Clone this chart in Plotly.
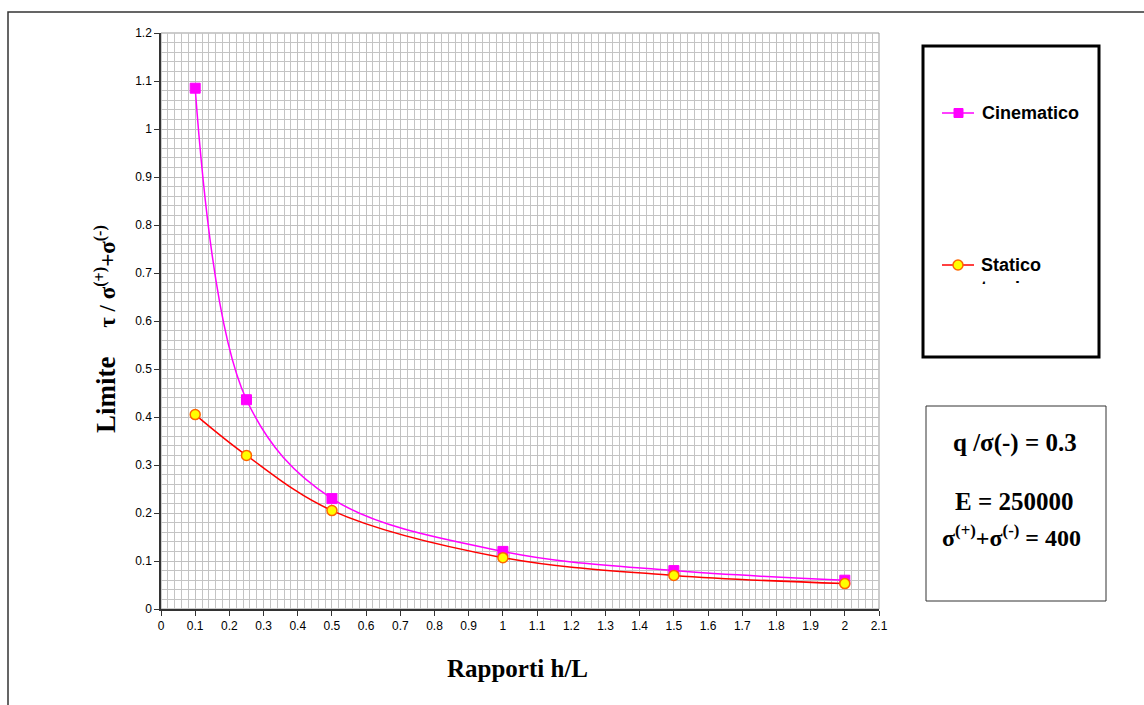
import plotly.graph_objects as go

h_over_L = [0.1, 0.25, 0.5, 1.0, 1.5, 2.0]
cinematico = [1.085, 0.436, 0.230, 0.120, 0.080, 0.060]
statico = [0.405, 0.320, 0.205, 0.107, 0.070, 0.053]
x_ticks = [round(i * 0.1, 1) for i in range(22)]
y_ticks = [round(i * 0.1, 1) for i in range(13)]

W, H = 1144, 705
L, R, T, B = 161, 879, 33, 609

fig = go.Figure()
fig.add_trace(go.Scatter(
    x=h_over_L, y=cinematico, mode="lines+markers", name="Cinematico",
    line=dict(color="#FF00FF", width=1.5, shape="spline", smoothing=1.0),
    marker=dict(symbol="square", size=10, color="#FF00FF", line=dict(color="#FF00FF", width=1)),
    showlegend=False, cliponaxis=False,
))
fig.add_trace(go.Scatter(
    x=h_over_L, y=statico, mode="lines+markers", name="Statico teorico",
    line=dict(color="#FF0000", width=1.5, shape="spline", smoothing=1.0),
    marker=dict(symbol="circle", size=10, color="#FFFF00", line=dict(color="#FF6600", width=1.5)),
    showlegend=False, cliponaxis=False,
))

# pixel -> paper (paper is relative to plot area)
def px(x):
    return (x - L) / (R - L)

def py(y):
    return (B - y) / (B - T)

shapes = []
# outer chart border
shapes.append(dict(type="rect", xref="paper", yref="paper",
                   x0=px(8), x1=px(1160), y0=py(730), y1=py(12),
                   line=dict(color="#333333", width=1.5), fillcolor="rgba(0,0,0,0)", layer="below"))
# legend box
shapes.append(dict(type="rect", xref="paper", yref="paper",
                   x0=px(923), x1=px(1099), y0=py(357), y1=py(46),
                   line=dict(color="#000000", width=3), fillcolor="white"))
# legend symbols
shapes.append(dict(type="line", xref="paper", yref="paper",
                   x0=px(942), x1=px(974), y0=py(113), y1=py(113),
                   line=dict(color="#FF00FF", width=1.5)))
shapes.append(dict(type="rect", xref="paper", yref="paper",
                   x0=px(954), x1=px(963), y0=py(117.5), y1=py(108.5),
                   line=dict(color="#FF00FF", width=1), fillcolor="#FF00FF"))
shapes.append(dict(type="line", xref="paper", yref="paper",
                   x0=px(942), x1=px(974), y0=py(265), y1=py(265),
                   line=dict(color="#FF0000", width=1.5)))
shapes.append(dict(type="circle", xref="paper", yref="paper",
                   x0=px(953), x1=px(963), y0=py(270), y1=py(260),
                   line=dict(color="#FF6600", width=1.5), fillcolor="#FFFF00"))
# parameter text box
shapes.append(dict(type="rect", xref="paper", yref="paper",
                   x0=px(926), x1=px(1106), y0=py(601), y1=py(406),
                   line=dict(color="#333333", width=1), fillcolor="white"))
# plot frame (top/right)
shapes.append(dict(type="rect", xref="paper", yref="paper", x0=0, x1=1, y0=0, y1=1,
                   line=dict(color="#999999", width=1), fillcolor="rgba(0,0,0,0)", layer="below"))

annotations = []
legfont = dict(family="Liberation Sans, Arial", size=18, color="black")
annotations.append(dict(xref="paper", yref="paper", x=px(980), y=py(113), xanchor="left", yanchor="middle",
                        text="<b>Cinematico</b>", showarrow=False, font=legfont))
annotations.append(dict(xref="paper", yref="paper", x=px(980), y=py(254), xanchor="left", yanchor="top",
                        text="<b>Statico<br>teorico</b>", showarrow=False, font=legfont,
                        height=29, valign="top", align="left", borderpad=0))
serif = dict(family="Liberation Serif, Times New Roman", size=25, color="black")
annotations.append(dict(xref="paper", yref="paper", x=px(1015), y=py(443), xanchor="center", yanchor="middle",
                        text="<b>q /σ(-) = 0.3</b>", showarrow=False, font=serif))
annotations.append(dict(xref="paper", yref="paper", x=px(1014), y=py(501), xanchor="center", yanchor="middle",
                        text="<b>E = 250000</b>", showarrow=False, font=serif))
annotations.append(dict(xref="paper", yref="paper", x=px(1011), y=py(536), xanchor="center", yanchor="middle",
                        text="<b>σ<sup>(+)</sup>+σ<sup>(-)</sup> = 400</b>", showarrow=False,
                        font=dict(family="Liberation Serif, Times New Roman", size=24, color="black")))
annotations.append(dict(xref="paper", yref="paper", x=px(517), y=py(668), xanchor="center", yanchor="middle",
                        text="<b>Rapporti h/L</b>", showarrow=False, font=serif))
annotations.append(dict(xref="paper", yref="paper", x=px(106), y=py(329), xanchor="center", yanchor="middle",
                        text="<b><span style='font-size:27px'>Limite</span>     τ / σ<sup>(+)</sup>+σ<sup>(-)</sup></b>",
                        textangle=-90, showarrow=False,
                        font=dict(family="Liberation Serif, Times New Roman", size=23, color="black")))

tickfont = dict(family="Liberation Sans, Arial", size=12, color="black")
fig.update_layout(
    width=W, height=H,
    margin=dict(l=L, r=W - R, t=T, b=H - B),
    paper_bgcolor="white", plot_bgcolor="white",
    shapes=shapes, annotations=annotations,
    showlegend=False,
    xaxis=dict(range=[0, 2.1], tickvals=x_ticks, ticktext=[f"{v:g}" for v in x_ticks],
               ticks="outside", ticklen=5, tickcolor="#333333", tickfont=tickfont,
               showline=True, linecolor="#333333", linewidth=1.5, mirror=False,
               showgrid=True, gridcolor="#c0c0c0", gridwidth=1, zeroline=False,
               minor=dict(dtick=0.02, showgrid=True, gridcolor="#c4c4c4", gridwidth=1)),
    yaxis=dict(range=[0, 1.2], tickvals=y_ticks, ticktext=[f"{v:g}" for v in y_ticks],
               ticks="outside", ticklen=5, tickcolor="#333333", tickfont=tickfont,
               showline=True, linecolor="#333333", linewidth=1.5, mirror=False,
               showgrid=True, gridcolor="#c0c0c0", gridwidth=1, zeroline=False,
               minor=dict(dtick=0.02, showgrid=True, gridcolor="#c4c4c4", gridwidth=1)),
)

fig.write_html("out.html", config={"displayModeBar": False},
               post_script="document.body.style.margin='0px';")
